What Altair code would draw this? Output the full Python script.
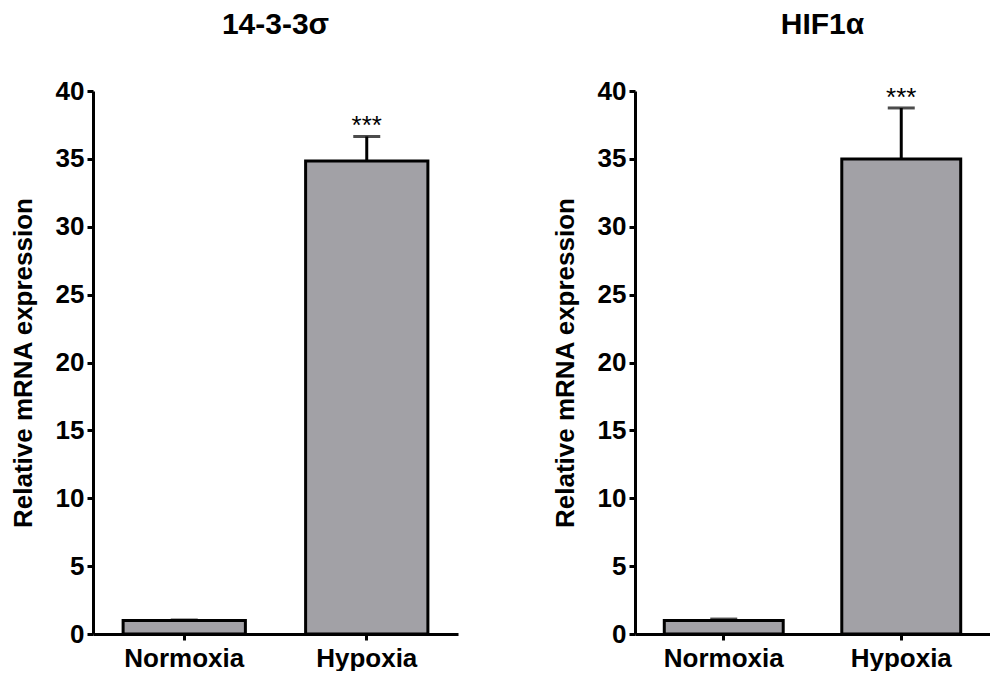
import altair as alt
import pandas as pd

conditions = ["Normoxia", "Hypoxia"]
panel_titles = ["14-3-3σ", "HIF1α"]
mean_1433 = [1.0, 34.85]
sem_1433 = [0.03, 1.8]
mean_hif = [1.0, 35.0]
sem_hif = [0.1, 3.75]
stars = ["", "***"]
y_ticks = [0, 5, 10, 15, 20, 25, 30, 35, 40]

FONT = "Liberation Sans"


def panel(title, means, sems, w, title_dx):
    df = pd.DataFrame({
        "cond": conditions,
        "mean": means,
        "upper": [m + s for m, s in zip(means, sems)],
        "stars": stars,
    })
    x = alt.X(
        "cond:N", sort=conditions,
        scale=alt.Scale(paddingInner=0.33, paddingOuter=0.165),
        axis=alt.Axis(title=None, labelAngle=0, labelFontSize=26, labelFontWeight="bold",
                      labelFont=FONT, labelColor="black", domainColor="black", domainWidth=3,
                      tickColor="black", tickWidth=3, tickSize=6, labelPadding=5),
    )
    y = alt.Y(
        "mean:Q",
        scale=alt.Scale(domain=[0, 40], nice=False),
        axis=alt.Axis(title="Relative mRNA expression", values=y_ticks, grid=False,
                      labelFontSize=26, labelFontWeight="bold", labelFont=FONT, labelColor="black",
                      domainColor="black", domainWidth=3, tickColor="black", tickWidth=3,
                      tickSize=6, labelPadding=3, titleFont=FONT, titleFontSize=26,
                      titleFontWeight="bold", titleColor="black", titlePadding=19),
    )
    base = alt.Chart(df)
    bars = base.mark_bar(color="#a2a1a6", stroke="black", strokeWidth=3).encode(x=x, y=y)
    err = base.mark_rule(color="black", strokeWidth=3).encode(
        x=alt.X("cond:N", sort=conditions), y="mean:Q", y2="upper:Q")
    cap = base.mark_tick(color="black", thickness=3, size=27, orient="horizontal").encode(
        x=alt.X("cond:N", sort=conditions), y="upper:Q")
    txt = base.mark_text(dy=-10, fontSize=26, font=FONT, color="black").encode(
        x=alt.X("cond:N", sort=conditions), y="upper:Q", text="stars:N")
    return alt.layer(bars, err, cap, txt).properties(
        width=w, height=543,
        title=alt.TitleParams(title, fontSize=30, fontWeight="bold", font=FONT, color="black",
                              offset=38, anchor="middle", dx=title_dx),
    )


left = panel(panel_titles[0], mean_1433, sem_1433, 365, 0)
right = panel(panel_titles[1], mean_hif, sem_hif, 355, 10)

chart = alt.hconcat(left, right, spacing=94).configure_view(stroke=None).properties(
    padding={"left": 2, "top": 2, "right": 0, "bottom": 0})

chart.save("out.html", embed_options={"renderer": "svg", "actions": False})
